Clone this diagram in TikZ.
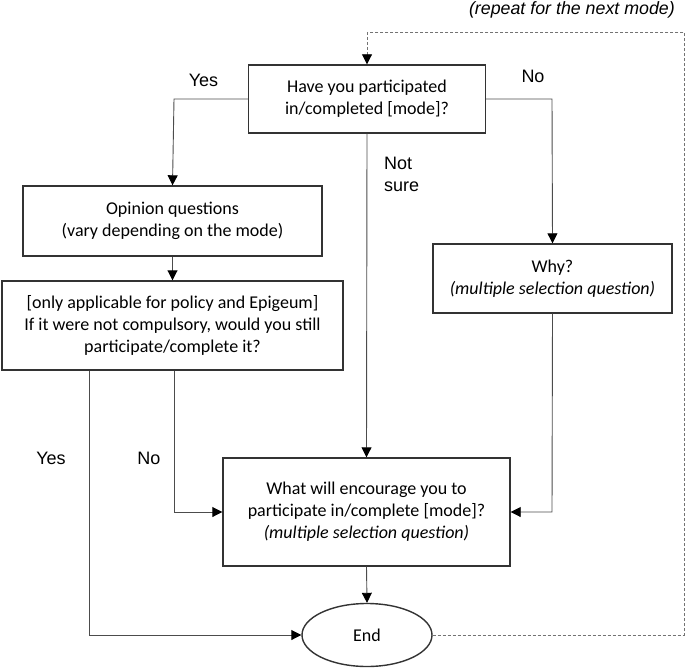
\documentclass[tikz,border=0pt]{standalone}
\usepackage{fontspec}
\setmainfont{Carlito}
\newfontfamily\labelfont{Liberation Sans}
\usetikzlibrary{arrows.meta,shapes.geometric}

\begin{document}
\begin{tikzpicture}[x=1pt, y=-1pt,
  qbox/.style={draw=black!80, line width=1.4pt, align=center, font=\fontsize{18}{22}\selectfont, inner sep=0pt},
  conn/.style={draw=black!70, line width=0.9pt, -{Triangle[width=10pt,length=10pt,color=black]}},
  loopline/.style={draw=black!55, line width=0.9pt, dash pattern=on 3pt off 2pt},
  answer/.style={font=\labelfont\fontsize{18}{22}\selectfont, align=left, inner sep=0pt}]
  \useasboundingbox (0,0) rectangle (685,669);

  % questions
  \node[qbox, minimum width=237pt, minimum height=68pt] (part) at (367,99)
    {Have you participated\\in/completed [mode]?};
  \node[qbox, minimum width=299pt, minimum height=70pt] (opin) at (172.5,221)
    {Opinion questions\\(vary depending on the mode)};
  \node[qbox, minimum width=341pt, minimum height=89pt] (comp) at (172.5,325.5)
    {[only applicable for policy and Epigeum]\\If it were not compulsory, would you still\\participate/complete it?};
  \node[qbox, minimum width=239pt, minimum height=69pt] (why) at (552.5,278.5)
    {Why?\\\textit{(multiple selection question)}};
  \node[qbox, minimum width=287pt, minimum height=108pt] (enc) at (366.5,512)
    {What will encourage you to\\participate in/complete [mode]?\\\textit{(multiple selection question)}};
  \node[draw=black!80, line width=1.4pt, ellipse, minimum width=130pt, minimum height=63pt,
    inner sep=0pt, font=\fontsize{18}{22}\selectfont] (end) at (367,635) {End};

  % corners for the elbows
  \coordinate (yescorner) at (174,99);
  \coordinate (nocorner) at (552,99);
  \coordinate (nocomp) at (174,512);
  \coordinate (yescomp) at (89,635);
  \coordinate (whycorner) at (552,512);
  \coordinate (loopa) at (684,635);
  \coordinate (loopb) at (684,32);
  \coordinate (loopc) at (367,32);

  % connectors
  \draw[conn] (part.west) -- (yescorner) -- (opin.north);
  \draw[conn] (part.east) -- (nocorner) -- (why.north);
  \draw[conn] (part.south) -- (enc.north);
  \draw[conn] (opin.south) -- (comp.north);
  \draw[conn] (comp.south -| nocomp) -- (nocomp) -- (enc.west);
  \draw[conn] (comp.south -| yescomp) -- (yescomp) -- (end.west);
  \draw[conn] (why.south) -- (whycorner) -- (enc.east);
  \draw[conn] (enc.south) -- (end.north);
  \draw[loopline] (end.east) -- (loopa) -- (loopb) -- (loopc);
  \draw[loopline, -{Triangle[width=10pt,length=10pt,color=black]}] (loopc) -- (part.north);

  % answers
  \node[answer] (yestop) at (203.5,80) {Yes};
  \node[answer] (notop) at (533,76) {No};
  \node[answer, anchor=west] (notsure) at (384,174) {Not\\sure};
  \node[answer] (yesleft) at (51,458) {Yes};
  \node[answer] (noleft) at (149,458) {No};
  \node[font=\labelfont\itshape\fontsize{17.8}{22}\selectfont, anchor=east, inner sep=0pt] (repeat)
    at (675,10) {(repeat for the next mode)};
\end{tikzpicture}
\end{document}
